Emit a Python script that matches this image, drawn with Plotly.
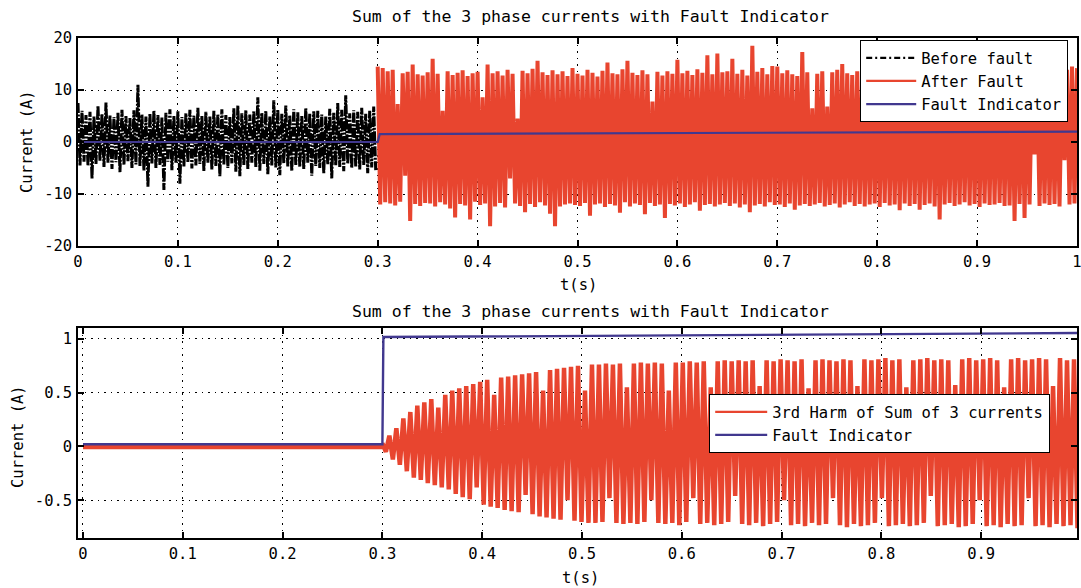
import numpy as np
import plotly.graph_objects as go

# ---------------- DATA ----------------
before_fault = [
    7.5, -4.5, 6.0, -3.8, 5.2, -4.6, 5.8, -7.0, 4.9, -4.2,
    7.0, -3.6, 5.4, -4.8, 7.6, -4.0, 5.1, -5.2, 4.8, -3.9,
    5.6, -5.8, 6.2, -4.4, 5.0, -3.7, 4.6, -5.0, 6.1, -4.3,
    11.0, -4.6, 5.3, -5.5, 4.9, -8.6, 5.5, -4.1, 6.0, -5.0,
    5.2, -4.4, 4.7, -9.2, 5.6, -3.8, 6.3, -5.4, 5.0, -4.0,
    5.9, -8.0, 4.8, -4.7, 5.5, -3.9, 6.2, -5.1, 5.1, -4.5,
    6.6, -4.2, 5.0, -5.6, 5.8, -4.0, 4.9, -5.3, 6.0, -4.6,
    5.4, -6.6, 6.3, -4.3, 5.2, -5.0, 4.8, -4.1, 6.5, -5.7,
    7.0, -6.6, 5.5, -4.4, 6.1, -5.2, 5.3, -4.0, 5.9, -4.8,
    8.6, -5.5, 5.6, -4.2, 6.0, -6.2, 4.9, -4.5, 8.0, -4.9,
    6.2, -6.4, 5.4, -4.1, 7.0, -4.7, 5.1, -5.6, 6.3, -4.4,
    5.7, -4.8, 5.0, -5.2, 6.6, -4.0, 5.5, -6.5, 5.9, -4.6,
    6.0, -5.0, 5.3, -6.0, 4.9, -4.3, 6.4, -7.0, 5.6, -4.5,
    7.5, -4.8, 6.2, -5.6, 9.0, -4.2, 5.5, -5.0, 6.1, -4.7,
    5.8, -5.3, 6.6, -4.4, 5.4, -6.0, 6.0, -4.9, 6.8, -5.4,
]
before_t_step = 0.002

after_fault = [
    14.5, -12.0, 14.2, -11.6, 13.6, -11.8, 13.9, -12.2, 7.3, -11.5, 13.2, -6.5, 13.5, -15.2, 14.9, -11.9, 13.0, -12.3, 12.8, -11.7,
    13.4, -11.8, 16.0, -12.4, 13.1, -11.6, 6.0, -12.0, 13.6, -12.8, 12.9, -14.5, 13.3, -11.9, 13.8, -12.2, 12.7, -14.9, 13.2, -11.5,
    13.5, -12.1, 8.6, -11.8, 14.9, -16.2, 13.2, -12.4, 13.6, -11.7, 12.8, -12.6, 13.9, -7.0, 13.1, -11.8, 4.5, -12.3, 13.7, -13.5,
    13.2, -11.9, 14.1, -12.5, 15.6, -11.6, 13.4, -12.2, 12.9, -13.8, 13.8, -16.2, 13.0, -12.4, 13.6, -12.0, 12.7, -11.8, 14.2, -12.1,
    13.1, -12.3, 12.8, -11.7, 13.9, -14.2, 13.3, -12.0, 12.6, -11.8, 13.7, -12.5, 15.3, -11.9, 13.2, -12.2, 13.0, -13.6, 14.0, -11.6,
    15.6, -12.4, 13.3, -11.8, 12.9, -12.1, 13.8, -13.9, 13.0, -11.7, 7.8, -12.3, 13.5, -12.0, 12.8, -14.6, 13.6, -11.9, 13.1, -12.2,
    15.8, -11.8, 13.2, -12.5, 13.7, -12.0, 12.9, -11.6, 14.0, -13.2, 13.3, -12.1, 16.7, -11.9, 13.0, -12.4, 17.0, -12.0, 13.4, -11.7,
    13.6, -12.3, 16.0, -11.8, 13.1, -12.6, 13.9, -12.0, 12.8, -13.5, 18.5, -12.2, 13.5, -11.9, 14.2, -12.4, 13.0, -11.6, 14.6, -12.1,
    14.5, -12.0, 13.2, -12.5, 13.8, -11.8, 13.0, -13.0, 12.7, -12.2, 17.3, -11.9, 13.4, -12.3, 6.5, -12.0, 13.1, -11.7, 13.6, -12.4,
    6.8, -12.1, 13.4, -11.8, 13.9, -12.6, 15.0, -12.0, 13.2, -11.6, 12.9, -12.3, 13.6, -11.9, 13.1, -12.4, 12.8, -12.0, 13.7, -11.8,
    13.3, -12.5, 13.0, -11.7, 13.8, -12.2, 12.7, -12.0, 13.5, -13.1, 13.2, -11.8, 14.0, -12.3, 12.9, -11.9, 13.6, -13.0, 13.1, -12.1,
    13.4, -11.8, 13.8, -12.4, 12.9, -14.9, 13.5, -12.0, 13.0, -11.7, 13.7, -12.3, 12.8, -12.0, 13.3, -11.6, 14.1, -12.2, 13.0, -11.9,
    13.6, -12.5, 13.1, -11.8, 12.8, -12.1, 13.9, -12.0, 13.3, -11.7, 13.0, -12.3, 13.7, -12.2, 12.9, -15.2, 13.4, -11.9, 13.2, -14.6,
    13.5, -12.0, 12.9, -2.4, 13.6, -12.3, 13.0, -11.8, 13.8, -12.1, 13.2, -11.9, 12.7, -12.4, 13.4, -3.5, 13.9, -12.0, 14.5, -11.8,
    14.2,
]
after_t_start = 0.3
after_t_step = 0.0025

fault_ind_top_t = [0.0, 0.3, 0.302, 1.0]
fault_ind_top_v = [0.0, 0.0, 1.5, 2.0]

# Bottom panel: 3rd harmonic of the sum of 3 currents (A)
harm_pre_t = [0.0, 0.3]
harm_pre_v = [-0.005, -0.005]
harm3 = [
    0.03, -0.05, 0.10, -0.12, 0.17, -0.17, 0.26, -0.23, 0.32, -0.29,
    0.38, -0.31, 0.41, -0.34, 0.44, -0.36, 0.36, -0.38, 0.48, -0.40,
    0.52, -0.44, 0.54, -0.47, 0.56, -0.49, 0.58, -0.38, 0.60, -0.54,
    0.62, -0.56, 0.48, -0.57, 0.64, -0.59, 0.65, -0.60, 0.66, -0.61,
    0.67, -0.45, 0.68, -0.63, 0.69, -0.65, 0.52, -0.66, 0.71, -0.67,
    0.72, -0.68, 0.73, -0.50, 0.74, -0.69, 0.75, -0.70, 0.52, -0.71,
    0.76, -0.71, 0.76, -0.70, 0.77, -0.48, 0.76, -0.71, 0.77, -0.72,
    0.55, -0.71, 0.77, -0.72, 0.78, -0.70, 0.77, -0.50, 0.78, -0.71,
    0.77, -0.72, 0.52, -0.71, 0.78, -0.73, 0.78, -0.70, 0.79, -0.48,
    0.78, -0.72, 0.79, -0.71, 0.55, -0.73, 0.79, -0.72, 0.80, -0.70,
    0.79, -0.46, 0.80, -0.72, 0.79, -0.73, 0.80, -0.71, 0.56, -0.74,
    0.80, -0.72, 0.79, -0.70, 0.81, -0.50, 0.80, -0.73, 0.79, -0.72,
    0.81, -0.74, 0.54, -0.71, 0.80, -0.73, 0.81, -0.72, 0.80, -0.48,
    0.79, -0.73, 0.81, -0.75, 0.80, -0.72, 0.56, -0.74, 0.81, -0.73,
    0.80, -0.71, 0.81, -0.48, 0.82, -0.74, 0.80, -0.73, 0.81, -0.72,
    0.55, -0.74, 0.80, -0.73, 0.81, -0.71, 0.82, -0.46, 0.80, -0.74,
    0.81, -0.73, 0.80, -0.72, 0.57, -0.75, 0.81, -0.74, 0.82, -0.72,
    0.80, -0.50, 0.81, -0.74, 0.82, -0.73, 0.80, -0.75, 0.55, -0.72,
    0.81, -0.74, 0.82, -0.73, 0.80, -0.48, 0.81, -0.74, 0.82, -0.73,
    0.81, -0.75, 0.56, -0.72, 0.82, -0.74, 0.80, -0.73, 0.81, -0.76,
]
harm_t_start = 0.3
harm_t_step = 0.0035

fault_ind_bot_t = [0.0, 0.3, 0.301, 0.996]
fault_ind_bot_v = [0.02, 0.02, 1.016, 1.053]

top_xticks = [0, 0.1, 0.2, 0.3, 0.4, 0.5, 0.6, 0.7, 0.8, 0.9, 1.0]
top_xlabels = ["0", "0.1", "0.2", "0.3", "0.4", "0.5", "0.6", "0.7", "0.8", "0.9", "1"]
top_yticks = [-20, -10, 0, 10, 20]
top_ylabels = ["-20", "-10", "0", "10", "20"]
bot_xticks = [0, 0.1, 0.2, 0.3, 0.4, 0.5, 0.6, 0.7, 0.8, 0.9]
bot_xlabels = ["0", "0.1", "0.2", "0.3", "0.4", "0.5", "0.6", "0.7", "0.8", "0.9"]
bot_yticks = [-0.5, 0, 0.5, 1]
bot_ylabels = ["-0.5", "0", "0.5", "1"]

title_text = "Sum of the 3 phase currents with Fault Indicator"

# ---------------- STYLE ----------------
FONT = "DejaVu Sans Mono"
RED = "#e8452f"
BLUE = "#41388f"
W, H = 1081, 588

t_before = np.arange(len(before_fault)) * before_t_step
t_after = after_t_start + np.arange(len(after_fault)) * after_t_step
t_harm = harm_t_start + np.arange(len(harm3)) * harm_t_step

fig = go.Figure()
# data traces (dense signals drawn with thick strokes so they read as a filled band)
fig.add_trace(go.Scatter(x=t_before, y=before_fault, mode="lines", showlegend=False,
                         line=dict(color="black", width=3.0, dash="10px,1.5px,2px,1.5px", simplify=False),
                         xaxis="x", yaxis="y"))
fig.add_trace(go.Scatter(x=t_after, y=after_fault, mode="lines", showlegend=False,
                         line=dict(color=RED, width=4.0, simplify=False),
                         xaxis="x", yaxis="y"))
fig.add_trace(go.Scatter(x=fault_ind_top_t, y=fault_ind_top_v, mode="lines", showlegend=False,
                         line=dict(color=BLUE, width=2.2, simplify=False),
                         xaxis="x", yaxis="y"))
fig.add_trace(go.Scatter(x=list(harm_pre_t) + list(t_harm), y=list(harm_pre_v) + list(harm3),
                         mode="lines", showlegend=False,
                         line=dict(color=RED, width=4.5, simplify=False),
                         xaxis="x2", yaxis="y2"))
fig.add_trace(go.Scatter(x=fault_ind_bot_t, y=fault_ind_bot_v, mode="lines", showlegend=False,
                         line=dict(color=BLUE, width=2.4, simplify=False),
                         xaxis="x2", yaxis="y2"))

# legend entries (thin samples, like the original legend)
legend_entries = [
    ("Before fault", "black", "6px,3px,2px,3px", "legend"),
    ("After Fault", RED, "solid", "legend"),
    ("Fault Indicator", BLUE, "solid", "legend"),
    ("3rd Harm of Sum of 3 currents", RED, "solid", "legend2"),
    ("Fault Indicator", BLUE, "solid", "legend2"),
]
for name, col, dash, lg in legend_entries:
    fig.add_trace(go.Scatter(x=[None], y=[None], mode="lines", name=name,
                             line=dict(color=col, width=2.2, dash=dash),
                             xaxis="x" if lg == "legend" else "x2",
                             yaxis="y" if lg == "legend" else "y2", legend=lg))

def px_x(p):
    return p / W

def px_y(p):
    return 1 - p / H

axis_common = dict(showline=True, linecolor="black", linewidth=1.5, mirror="allticks",
                   ticks="inside", ticklen=6, tickcolor="black", tickwidth=1.5,
                   showgrid=True, gridcolor="black", gridwidth=1, griddash="1.5px,5px",
                   zeroline=False, tickmode="array", ticklabelstandoff=1,
                   ticklabeloverflow="allow", automargin=False,
                   tickfont=dict(family=FONT, size=15.5, color="black"))

fig.update_layout(
    width=W, height=H, margin=dict(l=0, r=0, t=0, b=0, pad=0, autoexpand=False),
    paper_bgcolor="white", plot_bgcolor="white", showlegend=True,
    xaxis=dict(domain=[px_x(78), px_x(1077)], range=[0, 1], anchor="y",
               tickvals=top_xticks, ticktext=top_xlabels, **axis_common),
    yaxis=dict(domain=[px_y(246), px_y(38)], range=[-20, 20], anchor="x",
               tickvals=top_yticks, ticktext=top_ylabels, **axis_common),
    xaxis2=dict(domain=[px_x(78), px_x(1077)], range=[-0.005, 0.996], anchor="y2",
                tickvals=bot_xticks, ticktext=bot_xlabels, **axis_common),
    yaxis2=dict(domain=[px_y(538), px_y(328)], range=[-0.85, 1.1], anchor="x2",
                tickvals=bot_yticks, ticktext=bot_ylabels, **axis_common),
    legend=dict(x=px_x(860), y=px_y(40), xanchor="left", yanchor="top",
                bgcolor="white", bordercolor="black", borderwidth=1.2, itemwidth=50,
                font=dict(family=FONT, size=15.5, color="black"), tracegroupgap=0),
    legend2=dict(x=px_x(709), y=px_y(394), xanchor="left", yanchor="top",
                 bgcolor="white", bordercolor="black", borderwidth=1.2, itemwidth=52,
                 font=dict(family=FONT, size=15.5, color="black"), tracegroupgap=0),
)

ann_font = dict(family=FONT, size=15.5, color="black")
title_font = dict(family=FONT, size=16.5, color="black")
annotations = [
    dict(text=title_text, x=px_x(590), y=px_y(17), xref="paper", yref="paper",
         showarrow=False, font=title_font, xanchor="center", yanchor="middle"),
    dict(text=title_text, x=px_x(590), y=px_y(311), xref="paper", yref="paper",
         showarrow=False, font=title_font, xanchor="center", yanchor="middle"),
    dict(text="t(s)", x=px_x(578), y=px_y(285), xref="paper", yref="paper",
         showarrow=False, font=ann_font, xanchor="center", yanchor="middle"),
    dict(text="t(s)", x=px_x(580), y=px_y(578), xref="paper", yref="paper",
         showarrow=False, font=ann_font, xanchor="center", yanchor="middle"),
    dict(text="Current (A)", x=px_x(27), y=px_y(142), xref="paper", yref="paper",
         showarrow=False, font=ann_font, textangle=-90, xanchor="center", yanchor="middle"),
    dict(text="Current (A)", x=px_x(18), y=px_y(437), xref="paper", yref="paper",
         showarrow=False, font=ann_font, textangle=-90, xanchor="center", yanchor="middle"),
]
fig.update_layout(annotations=annotations)

fig.write_html("out.html",
               post_script="document.body.style.margin='0';document.body.style.overflow='hidden';")
